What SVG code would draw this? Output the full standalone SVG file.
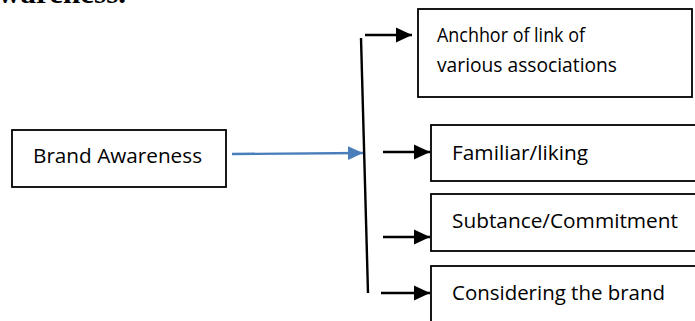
<svg xmlns="http://www.w3.org/2000/svg" width="695" height="321" viewBox="0 0 695 321">
<style>
.box{fill:#fff;stroke:#000;stroke-width:1.8}
.t{font-family:"Open Sans","Liberation Sans",Arial,sans-serif;font-size:20px;fill:#000}
.blk{stroke:#000;stroke-width:2.4;fill:none}
.blue{stroke:#4a7ebb;stroke-width:2.4;fill:none}
</style>
<defs>
<marker id="ah" markerUnits="userSpaceOnUse" markerWidth="17" markerHeight="16" refX="16" refY="8" orient="auto">
<path d="M0,0.5 L16,8 L0,15.5 Z" fill="#000"/>
</marker>
<marker id="ahb" markerUnits="userSpaceOnUse" markerWidth="16" markerHeight="16" refX="15" refY="8" orient="auto">
<path d="M0,1 L15,8 L0,15 Z" fill="#4a7ebb"/>
</marker>
</defs>
<text x="-2" y="3" font-family="'Liberation Serif','Times New Roman',serif" font-size="30" font-weight="bold" textLength="128" lengthAdjust="spacingAndGlyphs">wareness.</text>
<g id="brand-awareness">
<rect class="box" x="12" y="130" width="214" height="57"/>
<text class="t" x="33" y="163" textLength="169" lengthAdjust="spacingAndGlyphs">Brand Awareness</text>
</g>
<g id="anchor">
<rect class="box" x="418" y="9" width="274" height="88"/>
<text class="t" x="437" y="42" textLength="148" lengthAdjust="spacingAndGlyphs">Anchhor of link of</text>
<text class="t" x="437" y="72" textLength="180" lengthAdjust="spacingAndGlyphs">various associations</text>
</g>
<g id="familiar">
<rect class="box" x="431" y="125" width="280" height="56"/>
<text class="t" x="452" y="160" textLength="136" lengthAdjust="spacingAndGlyphs">Familiar/liking</text>
</g>
<g id="substance">
<rect class="box" x="431" y="194" width="280" height="57"/>
<text class="t" x="452" y="228" textLength="226" lengthAdjust="spacingAndGlyphs">Subtance/Commitment</text>
</g>
<g id="considering">
<rect class="box" x="431" y="266" width="280" height="70"/>
<text class="t" x="452" y="300" textLength="213" lengthAdjust="spacingAndGlyphs">Considering the brand</text>
</g>
<g id="connectors">
<line class="blue" x1="232" y1="154" x2="363" y2="153" marker-end="url(#ahb)"/>
<line class="blk" x1="361" y1="38" x2="368" y2="293"/>
<line class="blk" x1="365" y1="35" x2="412" y2="35" marker-end="url(#ah)"/>
<line class="blk" x1="383" y1="152" x2="430" y2="152" marker-end="url(#ah)"/>
<line class="blk" x1="383" y1="237" x2="430" y2="237" marker-end="url(#ah)"/>
<line class="blk" x1="381" y1="293" x2="430" y2="293" marker-end="url(#ah)"/>
</g>
</svg>
